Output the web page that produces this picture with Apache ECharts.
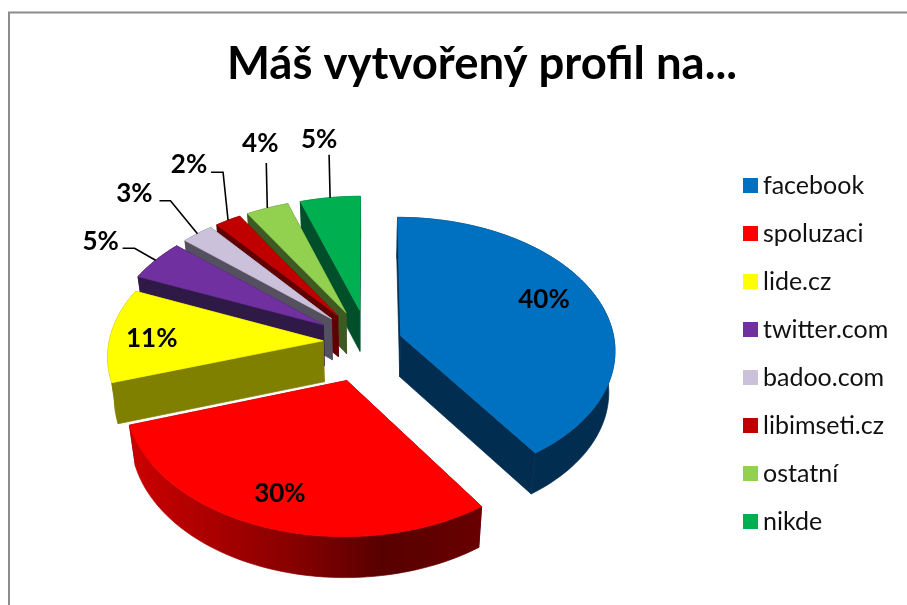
<!DOCTYPE html>
<html><head><meta charset="utf-8">
<style>html,body{margin:0;padding:0;background:#fff}#c{width:907px;height:605px}</style>
<script src="https://cdn.jsdelivr.net/npm/echarts@6/dist/echarts.min.js"></script>
</head><body><div id="c"></div>
<script>
const titleText = 'Máš vytvořený profil na...';
const categories = ['facebook','spoluzaci','lide.cz','twitter.com','badoo.com','libimseti.cz','ostatní','nikde'];
const shares = [40.4,29.6,11.4,5.0,2.7,2.2,3.6,5.1];
const topColors = ['#0070C0','#FF0000','#FFFF00','#7030A0','#CCC1DA','#C00000','#92D050','#00B050'];
const sideColors = ['#002D50','#600000','#7F7F00','#2F1A47','#54505F','#600000','#3D5A23','#004F2B'];
const explode = [.16,.30,.21,.25,.25,.25,.25,.25];
const paintOrder = [7,6,5,4,3,2,0,1];
// label offsets from each slice's outer-arc midpoint: text dx,dy, then leader bends
const labelOffsets = [
  {t:[-53,1]},{t:[14,-34]},{t:[41,4]},
  {t:[-55,-19],l:[[-21,-12],[-33,-12]]},
  {t:[-63,-40],l:[[-27,-33],[-38,-33]]},
  {t:[-39,-56],l:[[-5,-48],[-17,-48]]},
  {t:[-7,-64],l:[[-1,-45]]},
  {t:[-11,-58],l:[[-1,-43]]}
];
const FONT = 'Lato, Carlito, Calibri, sans-serif';
const CX=368, CY=342, A=214, B=131.7, K=.102, DEPTH=41, SHRINK=.975;
const total = shares.reduce((s,v)=>s+v,0);
function proj(x,y){const w=1-K*y;return [CX+A*x/w,CY+B*y/w];}
function low(p){return [CX+(p[0]-CX)*SHRINK,p[1]+DEPTH];}
function sliceGeom(i){
  let before=0;for(let j=0;j<i;j++)before+=shares[j];
  const a0=before/total*2*Math.PI,a1=(before+shares[i])/total*2*Math.PI,m=(a0+a1)/2;
  const ox=explode[i]*Math.sin(m),oy=-explode[i]*Math.cos(m);
  const pt=(r,a)=>proj(ox+r*Math.sin(a),oy-r*Math.cos(a));
  const n=Math.max(6,Math.ceil((a1-a0)/0.03)),arc=[];
  for(let s=0;s<=n;s++)arc.push(pt(1,a0+(a1-a0)*s/n));
  return {apex:pt(0,0),arc,mid:pt(1,m)};
}
function poly(points,fill,edge){return {type:'polygon',shape:{points},style:{fill,stroke:edge||fill,lineWidth:.7,lineJoin:'round'}};}
function renderSlice(i){
  const g=sliceGeom(i),ch=[],side=sideColors[i];
  const outerFill = i===1 ? {type:'linear',x:0,y:0,x2:1,y2:0,colorStops:[
      {offset:0,color:'#CC0000'},{offset:.45,color:'#8A0000'},{offset:.72,color:'#580000'},{offset:1,color:'#680000'}]} : side;
  ch.push(poly([g.apex,low(g.apex),low(g.arc[0]),g.arc[0]],side));
  const e=g.arc[g.arc.length-1];
  ch.push(poly([g.apex,low(g.apex),low(e),e],side));
  ch.push(poly(g.arc.concat(g.arc.map(low).reverse()),outerFill));
  ch.push(poly([g.apex].concat(g.arc),topColors[i]));
  const o=labelOffsets[i];
  if(o.l){
    const pts=[g.mid].concat(o.l.map(d=>[g.mid[0]+d[0],g.mid[1]+d[1]]));
    ch.push({type:'polyline',shape:{points:pts},style:{stroke:'#000',lineWidth:1.6,fill:null}});
  }
  ch.push({type:'text',x:g.mid[0]+o.t[0],y:g.mid[1]+o.t[1],z2:20,style:{
    text:Math.round(shares[i])+'%',font:'bold 26px '+FONT,fill:'#000',align:'center',verticalAlign:'middle'}});
  return {type:'group',children:ch};
}
const series=categories.map((name,i)=>({
  type:'custom',name,coordinateSystem:'none',animation:false,silent:true,
  z:2+paintOrder.indexOf(i),
  itemStyle:{color:topColors[i]},
  data:[[shares[i]]],
  renderItem:()=>renderSlice(i)
}));
const chart=echarts.init(document.getElementById('c'),null,{renderer:'canvas'});
chart.setOption({
  animation:false,backgroundColor:'#fff',
  title:{text:titleText,left:477,top:33,textAlign:'center',
    textStyle:{fontFamily:FONT,fontWeight:'bold',fontSize:45.5,color:'#000',lineHeight:52}},
  legend:{orient:'vertical',left:743,top:173,padding:0,itemWidth:15,itemHeight:15,itemGap:23,icon:'rect',
    selectedMode:false,data:categories,
    textStyle:{fontFamily:FONT,fontSize:25,color:'#111'}},
  graphic:[{type:'polyline',silent:true,shape:{points:[[9,605],[9,12.5],[907,12.5]]},
    style:{stroke:'#8C8C8C',lineWidth:2,fill:null}}],
  series
});
</script></body></html>
